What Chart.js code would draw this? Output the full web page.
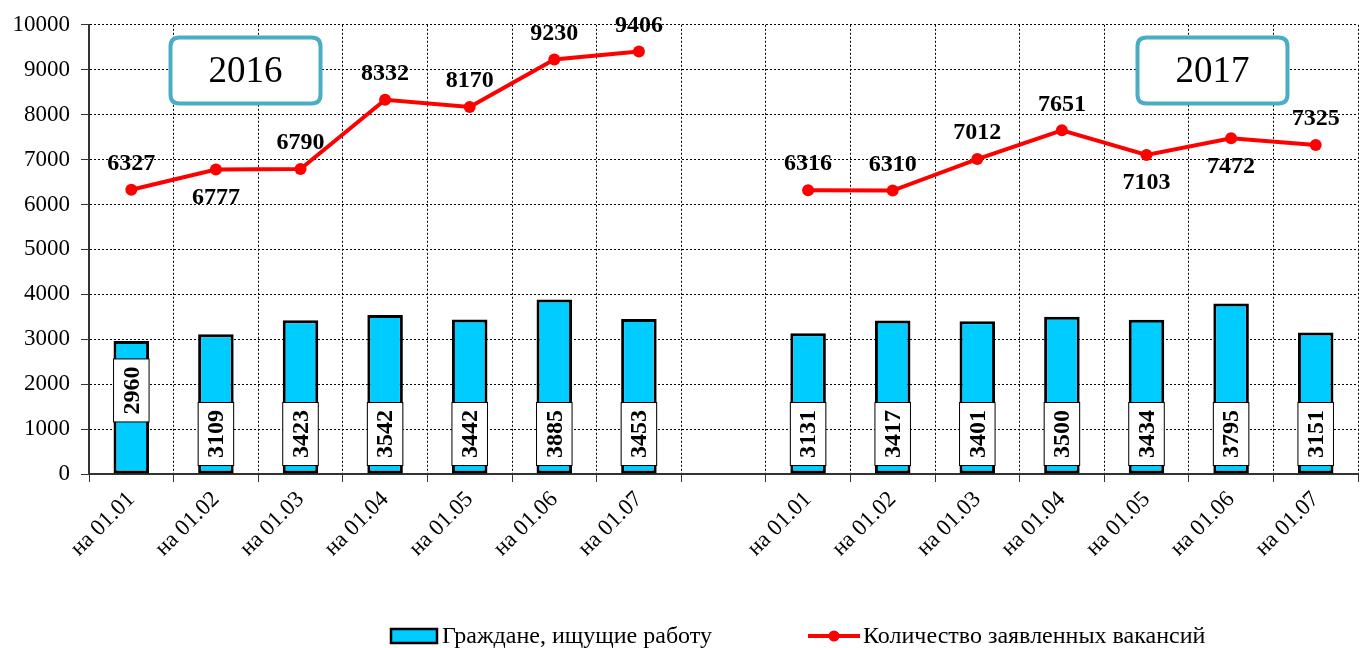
<!DOCTYPE html>
<html>
<head>
<meta charset="utf-8">
<script src="https://cdn.jsdelivr.net/npm/chart.js@4/dist/chart.umd.min.js"></script>
<style>
  html, body { margin: 0; padding: 0; background: #fff; }
  #wrap { width: 1364px; height: 648px; position: relative; }
</style>
</head>
<body>
<div id="wrap"><canvas id="c"></canvas></div>
<script>
    'use strict';

    // categories: 2016 (7), gap, 2017 (7)
    var categories = ['на 01.01', 'на 01.02', 'на 01.03', 'на 01.04', 'на 01.05', 'на 01.06', 'на 01.07', '',
                      'на 01.01', 'на 01.02', 'на 01.03', 'на 01.04', 'на 01.05', 'на 01.06', 'на 01.07'];
    var seekers   = [2960, 3109, 3423, 3542, 3442, 3885, 3453, null, 3131, 3417, 3401, 3500, 3434, 3795, 3151];
    var vacancies = [6327, 6777, 6790, 8332, 8170, 9230, 9406, null, 6316, 6310, 7012, 7651, 7103, 7472, 7325];
    var seriesNames = ['Граждане, ищущие работу', 'Количество заявленных вакансий'];
    var years = ['2016', '2017'];
    var yTicks = [0, 1000, 2000, 3000, 4000, 5000, 6000, 7000, 8000, 9000, 10000];

    var SERIF = '"Liberation Serif", "Times New Roman", serif';
    var CYAN = '#00CCFF';
    var RED = '#FF0000';

    // line labels that sit under their point
    var below = [1, 12, 13];

    function roundRect(ctx, x, y, w, h, r) {
        ctx.beginPath();
        ctx.moveTo(x + r, y);
        ctx.lineTo(x + w - r, y);
        ctx.quadraticCurveTo(x + w, y, x + w, y + r);
        ctx.lineTo(x + w, y + h - r);
        ctx.quadraticCurveTo(x + w, y + h, x + w - r, y + h);
        ctx.lineTo(x + r, y + h);
        ctx.quadraticCurveTo(x, y + h, x, y + h - r);
        ctx.lineTo(x, y + r);
        ctx.quadraticCurveTo(x, y, x + r, y);
        ctx.closePath();
    }

    var labelsPlugin = {
        id: 'labels',
        afterDatasetsDraw: function (chart) {
            var ctx = chart.ctx;
            var y = chart.scales.y;

            // bar labels: white boxes, vertical text
            var barMeta = chart.getDatasetMeta(1);
            barMeta.data.forEach(function (bar, i) {
                var v = seekers[i];
                if (v === null) return;
                var w = bar.width;
                var h = 63;
                var cy = y.getPixelForValue(i === 0 ? 1860 : 890);
                ctx.save();
                ctx.fillStyle = '#fff';
                ctx.fillRect(bar.x - w / 2, cy - h / 2, w, h);
                ctx.strokeStyle = '#000';
                ctx.lineWidth = 1;
                ctx.strokeRect(bar.x - w / 2, cy - h / 2, w, h);
                ctx.translate(bar.x, cy);
                ctx.rotate(-Math.PI / 2);
                ctx.font = 'bold 24px ' + SERIF;
                ctx.fillStyle = '#000';
                ctx.textAlign = 'center';
                ctx.textBaseline = 'middle';
                ctx.fillText(String(v), 0, 1);
                ctx.restore();
            });

            // line labels
            var lineMeta = chart.getDatasetMeta(0);
            ctx.save();
            ctx.font = 'bold 24px ' + SERIF;
            ctx.fillStyle = '#000';
            ctx.textAlign = 'center';
            ctx.textBaseline = 'middle';
            lineMeta.data.forEach(function (pt, i) {
                var v = vacancies[i];
                if (v === null) return;
                var dy = below.indexOf(i) >= 0 ? 28 : -26;
                ctx.fillText(String(v), pt.x, pt.y + dy);
            });
            ctx.restore();
        },
        afterDraw: function (chart) {
            var ctx = chart.ctx;
            var x = chart.scales.x;
            var y = chart.scales.y;

            // year boxes
            var spots = [1.35, 12.78];
            years.forEach(function (t, k) {
                var cx = x.getPixelForValue(spots[k]);
                var cy = y.getPixelForValue(8980);
                var w = 150, h = 66;
                ctx.save();
                roundRect(ctx, cx - w / 2, cy - h / 2, w, h, 9);
                ctx.fillStyle = '#fff';
                ctx.fill();
                ctx.lineWidth = 4;
                ctx.strokeStyle = '#4BACC6';
                ctx.stroke();
                ctx.font = '37px ' + SERIF;
                ctx.fillStyle = '#000';
                ctx.textAlign = 'center';
                ctx.textBaseline = 'middle';
                ctx.fillText(t, cx, cy + 2);
                ctx.restore();
            });

            // legend
            var ly = 636;
            ctx.save();
            ctx.fillStyle = CYAN;
            ctx.fillRect(391, ly - 7, 46, 14);
            ctx.strokeStyle = '#000';
            ctx.lineWidth = 2.5;
            ctx.strokeRect(391, ly - 7, 46, 14);
            ctx.strokeStyle = RED;
            ctx.lineWidth = 4;
            ctx.beginPath();
            ctx.moveTo(808, ly);
            ctx.lineTo(860, ly);
            ctx.stroke();
            ctx.fillStyle = RED;
            ctx.beginPath();
            ctx.arc(834, ly, 5.5, 0, Math.PI * 2);
            ctx.fill();
            ctx.font = '24px ' + SERIF;
            ctx.fillStyle = '#000';
            ctx.textAlign = 'left';
            ctx.textBaseline = 'middle';
            ctx.fillText(seriesNames[0], 442, ly + 1);
            ctx.fillText(seriesNames[1], 863, ly + 1);
            ctx.restore();
        }
    };

    var chart = new Chart(document.getElementById('c'), {
        type: 'bar',
        data: {
            labels: categories,
            datasets: [
                {
                    type: 'line',
                    label: seriesNames[1],
                    data: vacancies,
                    borderColor: RED,
                    backgroundColor: RED,
                    borderWidth: 4,
                    pointRadius: 6,
                    pointBackgroundColor: RED,
                    pointBorderWidth: 0,
                    tension: 0,
                    spanGaps: false,
                    order: 0
                },
                {
                    type: 'bar',
                    label: seriesNames[0],
                    data: seekers,
                    backgroundColor: CYAN,
                    borderColor: '#000',
                    borderWidth: 3,
                    borderSkipped: false,
                    barPercentage: 0.42,
                    categoryPercentage: 1,
                    order: 1
                }
            ]
        },
        options: {
            responsive: true,
            maintainAspectRatio: false,
            animation: false,
            layout: { padding: { top: 23, right: 6, left: 0, bottom: 0 } },
            plugins: {
                legend: { display: false },
                tooltip: { enabled: false }
            },
            scales: {
                x: {
                    offset: true,
                    grid: { offset: true, color: '#000', lineWidth: 1, tickLength: 8, tickColor: '#333', tickBorderDash: [] },
                    border: { color: '#333', width: 2, dash: [2, 2] },
                    ticks: {
                        color: '#000',
                        font: { family: SERIF, size: 23 },
                        maxRotation: 45,
                        minRotation: 45,
                        autoSkip: false,
                        padding: 4
                    },
                    afterFit: function (s) { s.height = 174; }
                },
                y: {
                    min: 0,
                    max: 10000,
                    afterBuildTicks: function (s) {
                        s.ticks = yTicks.map(function (v) { return { value: v }; });
                    },
                    grid: { color: '#000', lineWidth: 1, tickLength: 8, tickColor: '#333', tickBorderDash: [] },
                    border: { color: '#333', width: 2, dash: [2, 2] },
                    ticks: {
                        color: '#000',
                        font: { family: SERIF, size: 23 },
                        padding: 11,
                        callback: function (v) { return String(v); }
                    },
                    afterFit: function (s) { s.width = 89; }
                }
            }
        },
        plugins: [labelsPlugin]
    });
</script>
</body>
</html>
